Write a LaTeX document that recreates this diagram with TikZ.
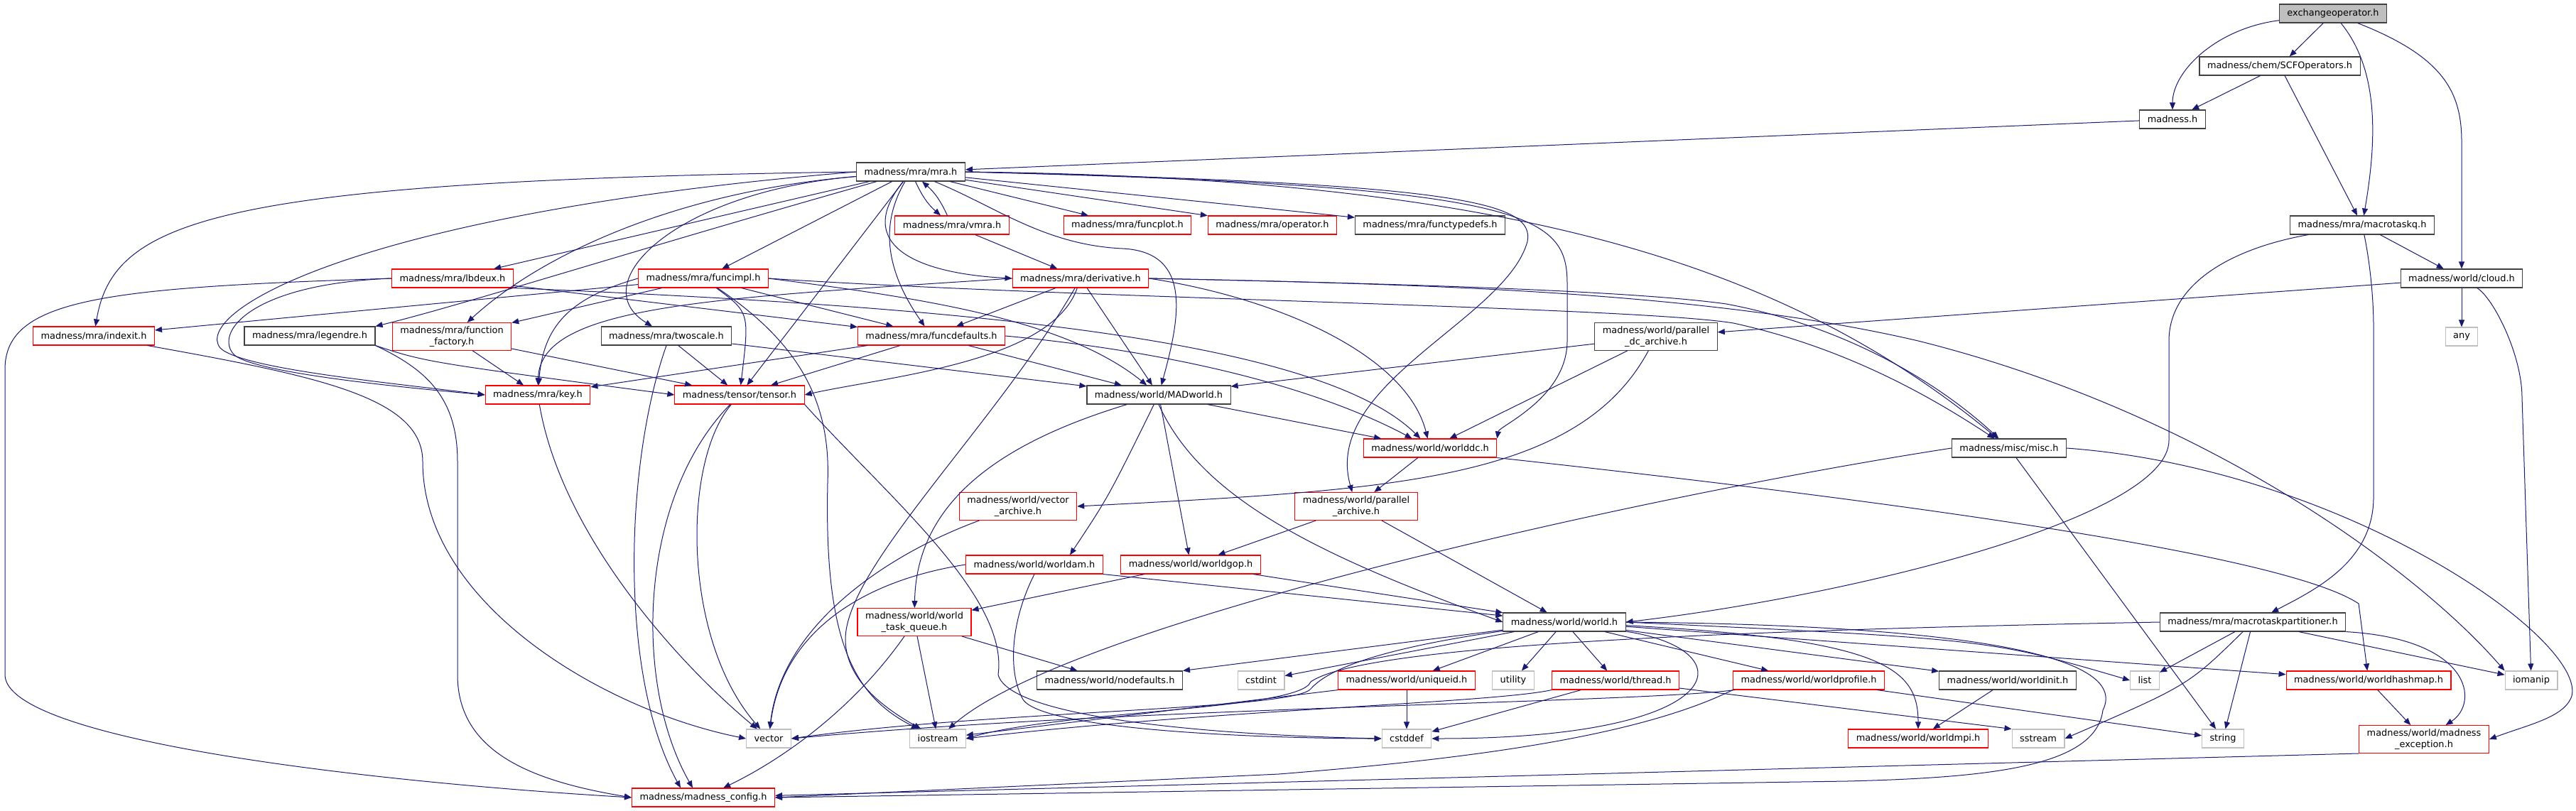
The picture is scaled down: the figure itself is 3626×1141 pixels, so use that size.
\documentclass[tikz,border=0pt]{standalone}
\usepackage{fontspec}
\setmainfont{DejaVu Sans}
\usetikzlibrary{arrows.meta}
\definecolor{edgeblue}{HTML}{191970}
\definecolor{grey75}{HTML}{BFBFBF}
\definecolor{hdrred}{HTML}{FF0000}
\definecolor{hdrblack}{HTML}{404040}

\begin{document}
\begin{tikzpicture}[
    x=1pt, y=-1pt,
    hdr/.style={draw=hdrblack, line width=1.1pt, inner xsep=11pt, inner ysep=5pt,
        minimum height=26pt, align=center, font=\fontsize{12.9}{16}\selectfont},
    redhdr/.style={hdr, draw=hdrred},
    syshdr/.style={hdr, draw=grey75},
    roothdr/.style={hdr, fill=grey75},
    incl/.style={->, draw=edgeblue, line width=1pt},
    >={Triangle[length=10pt,width=8pt]}
]
\useasboundingbox (0,0) rectangle (3626,1141);

% Top
\node[roothdr] (exchop)   at (3284,19)  {exchangeoperator.h};
\node[hdr]     (scfop)    at (3209,93)  {madness/chem/SCFOperators.h};
\node[hdr]     (madness)  at (3058,168) {madness.h};
\node[hdr]     (mra)      at (1282,242) {madness/mra/mra.h};

% mra level
\node[redhdr] (vmra)         at (1340,317) {madness/mra/vmra.h};
\node[redhdr] (funcplot)     at (1587,317) {madness/mra/funcplot.h};
\node[redhdr] (operator)     at (1791,317) {madness/mra/operator.h};
\node[hdr]    (functypedefs) at (2013,317) {madness/mra/functypedefs.h};
\node[hdr]    (macrotaskq)   at (3325,317) {madness/mra/macrotaskq.h};

\node[redhdr] (lbdeux)     at (637,392)  {madness/mra/lbdeux.h};
\node[redhdr] (funcimpl)   at (990,392)  {madness/mra/funcimpl.h};
\node[redhdr] (derivative) at (1521,392) {madness/mra/derivative.h};
\node[hdr]    (cloud)      at (3465,392) {madness/world/cloud.h};

\node[redhdr] (indexit)      at (132,473)  {madness/mra/indexit.h};
\node[hdr]    (legendre)     at (436,473)  {madness/mra/legendre.h};
\node[redhdr] (ffactory)     at (636,474)  {madness/mra/function\\\_factory.h};
\node[hdr]    (twoscale)     at (938,473)  {madness/mra/twoscale.h};
\node[redhdr] (funcdefaults) at (1311,473) {madness/mra/funcdefaults.h};
\node[hdr]    (pdcarchive)   at (2331,474) {madness/world/parallel\\\_dc\_archive.h};
\node[syshdr] (any)          at (3465,474) {any};

\node[redhdr] (key)      at (757,556)  {madness/mra/key.h};
\node[redhdr] (tensor)   at (1041,556) {madness/tensor/tensor.h};
\node[hdr]    (madworld) at (1631,556) {madness/world/MADworld.h};

% World level
\node[redhdr] (worlddc)    at (2013,631) {madness/world/worlddc.h};
\node[hdr]    (misc)       at (2828,631) {madness/misc/misc.h};
\node[redhdr] (vecarchive) at (1433,713) {madness/world/vector\\\_archive.h};
\node[redhdr] (pararchive) at (1909,713) {madness/world/parallel\\\_archive.h};
\node[redhdr] (worldam)    at (1456,795) {madness/world/worldam.h};
\node[redhdr] (worldgop)   at (1676,795) {madness/world/worldgop.h};
\node[redhdr] (taskqueue)  at (1287,876) {madness/world/world\\\_task\_queue.h};
\node[hdr]    (world)      at (2202,876) {madness/world/world.h};
\node[hdr]    (partitioner) at (3171,876) {madness/mra/macrotaskpartitioner.h};

\node[hdr]    (nodefaults)   at (1562,958) {madness/world/nodefaults.h};
\node[syshdr] (cstdint)      at (1775,958) {cstdint};
\node[redhdr] (uniqueid)     at (1980,958) {madness/world/uniqueid.h};
\node[syshdr] (utility)      at (2130,958) {utility};
\node[redhdr] (thread)       at (2274,958) {madness/world/thread.h};
\node[redhdr] (worldprofile) at (2546,958) {madness/world/worldprofile.h};
\node[hdr]    (worldinit)    at (2826,958) {madness/world/worldinit.h};
\node[syshdr] (list)         at (3019,958) {list};
\node[redhdr] (worldhashmap) at (3334,958) {madness/world/worldhashmap.h};
\node[syshdr] (iomanip)      at (3563,958) {iomanip};

% Bottom
\node[syshdr] (vector)       at (1082,1040) {vector};
\node[syshdr] (iostream)     at (1320,1040) {iostream};
\node[syshdr] (cstddef)      at (1980,1040) {cstddef};
\node[redhdr] (worldmpi)     at (2700,1040) {madness/world/worldmpi.h};
\node[syshdr] (sstream)      at (2869,1040) {sstream};
\node[syshdr] (string)       at (3129,1040) {string};
\node[redhdr] (madexception) at (3412,1041) {madness/world/madness\\\_exception.h};
\node[redhdr] (madconfig)    at (990,1123)  {madness/madness\_config.h};

% exchangeoperator.h, SCFOperators.h, madness.h
\draw[incl] (exchop) .. controls (3120,40) and (3058,100) .. (madness);
\draw[incl] (exchop) -- (scfop);
\draw[incl] (exchop) .. controls (3350,100) and (3345,200) .. (macrotaskq);
\draw[incl] (exchop) .. controls (3440,80) and (3465,130) .. (3465,200) -- (cloud);
\draw[incl] (scfop) -- (madness);
\draw[incl] (scfop) -- (macrotaskq);
\draw[incl] (madness) -- (mra);

% macrotaskq.h, cloud.h
\draw[incl] (macrotaskq) -- (cloud);
\draw[incl] (macrotaskq) .. controls (3140,350) and (3053,400) .. (3053,480) -- (3053,620)
    .. controls (3053,730) and (2600,840) .. (world.east);
\draw[incl] (macrotaskq) .. controls (3336,370) and (3341,420) .. (3341,460) -- (3341,700)
    .. controls (3341,790) and (3260,830) .. (partitioner);
\draw[incl] (cloud) -- (pdcarchive);
\draw[incl] (cloud) -- (any);
\draw[incl] (cloud) .. controls (3510,420) and (3550,500) .. (3550,560) -- (iomanip);

% mra.h
\draw[incl] (mra) to[bend right=12] (vmra);
\draw[incl] (vmra) to[bend right=12] (mra);
\draw[incl] (mra) -- (funcplot);
\draw[incl] (mra) -- (operator);
\draw[incl] (mra) -- (functypedefs);
\draw[incl] (mra) .. controls (1200,345) and (1290,385) .. (derivative.west);
\draw[incl] (mra) -- (funcimpl);
\draw[incl] (mra) .. controls (1230,330) and (1260,400) .. (funcdefaults);
\draw[incl] (mra) -- (tensor);
\draw[incl] (mra) .. controls (1400,290) and (1470,345) .. (1580,350)
    .. controls (1680,355) and (1660,450) .. (madworld);
\draw[incl] (mra) -- (lbdeux);
\draw[incl] (mra.west) .. controls (300,255) and (160,310) .. (indexit);
\draw[incl] (mra) .. controls (900,350) and (650,430) .. (legendre.north east);
\draw[incl] (mra) .. controls (950,270) and (760,360) .. (ffactory);
\draw[incl] (mra.west) .. controls (500,300) and (270,440) .. (310,490)
    .. controls (340,520) and (560,540) .. (key.west);
\draw[incl] (mra) .. controls (950,270) and (820,400) .. ([xshift=-20pt]twoscale.north);
\draw[incl] (mra.east) .. controls (2150,262) and (2206,300) .. (2206,400) -- (2206,480)
    .. controls (2206,560) and (2110,600) .. (worlddc.north east);
\draw[incl] (mra.east) .. controls (2060,258) and (2160,285) .. (2150,340)
    .. controls (2120,450) and (1860,540) .. (pararchive);
\draw[incl] (mra.east) .. controls (2100,250) and (2500,360) .. (misc);
\draw[incl] (vmra) -- (derivative);

% derivative.h
\draw[incl] (derivative) -- (funcdefaults);
\draw[incl] (derivative) .. controls (1480,510) and (1250,530) .. (tensor.east);
\draw[incl] (derivative) -- (madworld);
\draw[incl] (derivative.west) .. controls (1000,420) and (760,430) .. (key);
\draw[incl] (derivative.east) .. controls (1800,420) and (1980,500) .. (worlddc);
\draw[incl] (derivative.east) .. controls (2000,400) and (2300,410) .. (2430,428)
    .. controls (2600,460) and (2730,540) .. (misc);
\draw[incl] (derivative.east) .. controls (2000,400) and (2400,410) .. (2700,480)
    .. controls (3100,580) and (3400,800) .. (iomanip.north west);
\draw[incl] (derivative) .. controls (1400,600) and (1190,800) .. (1190,900)
    .. controls (1190,960) and (1250,1000) .. (iostream);

% funcimpl.h
\draw[incl] (funcimpl) -- (indexit);
\draw[incl] (funcimpl) -- (ffactory);
\draw[incl] (funcimpl.west) .. controls (800,420) and (765,460) .. (key);
\draw[incl] (funcimpl) -- (funcdefaults);
\draw[incl] (funcimpl) .. controls (1055,440) .. (tensor);
\draw[incl] (funcimpl.east) .. controls (1300,420) and (1500,450) .. (madworld);
\draw[incl] (funcimpl) .. controls (1120,480) and (1170,560) .. (1165,680)
    .. controls (1160,900) and (1200,980) .. (iostream);
\draw[incl] (funcimpl.east) .. controls (1500,420) and (2300,432) .. (2440,455)
    .. controls (2600,490) and (2720,560) .. (misc);

% lbdeux.h, legendre.h, indexit.h, key.h
\draw[incl] (lbdeux.west) .. controls (350,400) and (300,470) .. (330,500)
    .. controls (360,525) and (560,545) .. (key.west);
\draw[incl] (lbdeux) -- (funcdefaults);
\draw[incl] (lbdeux.south east) .. controls (1300,430) and (1850,470) .. (worlddc);
\draw[incl] (lbdeux.west) .. controls (150,405) and (7,420) .. (7,520) -- (7,950)
    .. controls (7,1040) and (500,1100) .. (madconfig.west);
\draw[incl] (legendre.south east) .. controls (600,510) .. (tensor.west);
\draw[incl] (legendre.south east) .. controls (600,520) and (644,560) .. (644,650) -- (644,950)
    .. controls (644,1060) and (750,1100) .. (madconfig.west);
\draw[incl] (indexit) .. controls (450,530) and (595,560) .. (595,650)
    .. controls (595,850) and (850,1000) .. (vector.west);
\draw[incl] (key) .. controls (790,750) and (950,930) .. (vector);

% function_factory.h, twoscale.h, funcdefaults.h, tensor.h
\draw[incl] (ffactory) -- (key);
\draw[incl] (ffactory) -- (tensor);
\draw[incl] (twoscale) -- (tensor);
\draw[incl] (twoscale) -- (madworld);
\draw[incl] (twoscale.south) .. controls (880,650) and (870,950) .. ([xshift=-32pt]madconfig.north);
\draw[incl] (funcdefaults) -- (key);
\draw[incl] (funcdefaults) -- (tensor);
\draw[incl] (funcdefaults) -- (madworld);
\draw[incl] (funcdefaults.east) .. controls (1700,500) and (1880,560) .. (worlddc);
\draw[incl] (tensor) .. controls (960,650) and (960,900) .. (vector);
\draw[incl] (tensor) .. controls (900,700) and (890,960) .. ([xshift=-15pt]madconfig.north);
\draw[incl] (tensor.south east) .. controls (1250,700) and (1420,840) .. (1405,950)
    .. controls (1420,1010) and (1700,1035) .. (cstddef.west);

% MADworld.h, worlddc.h, archives
\draw[incl] (madworld) .. controls (1420,620) and (1290,700) .. (taskqueue);
\draw[incl] (madworld) .. controls (1560,700) .. ([xshift=50pt]worldam.north);
\draw[incl] (madworld) -- (worldgop);
\draw[incl] (madworld.south) .. controls (1690,700) and (1850,780) .. (world.west);
\draw[incl] (madworld) -- (worlddc);
\draw[incl] (worlddc) -- (pararchive);
\draw[incl] (worlddc.south east) .. controls (2800,720) and (3230,790) .. (3320,850) -- (worldhashmap);
\draw[incl] (pararchive) -- (world);
\draw[incl] (pararchive) -- (worldgop);
\draw[incl] (pdcarchive) -- (madworld);
\draw[incl] (pdcarchive) -- (worlddc);
\draw[incl] (pdcarchive) .. controls (2220,680) and (1950,690) .. (vecarchive.east);
\draw[incl] (vecarchive) .. controls (1250,780) and (1100,880) .. (vector);

% misc.h
\draw[incl] (misc.west) .. controls (2300,700) and (1500,880) .. (iostream);
\draw[incl] (misc) -- (string);
\draw[incl] (misc.east) .. controls (3300,660) and (3640,900) .. (3620,980)
    .. controls (3610,1010) and (3560,1020) .. (madexception.east);

% worldam.h, worldgop.h, world_task_queue.h
\draw[incl] (worldam.west) .. controls (1200,820) and (1100,900) .. (vector);
\draw[incl] (worldam.south) .. controls (1420,880) and (1420,950) .. (1440,985)
    .. controls (1470,1030) and (1800,1040) .. (cstddef.west);
\draw[incl] (worldam.south east) -- (world);
\draw[incl] (worldgop) -- (taskqueue);
\draw[incl] (worldgop) -- (world);
\draw[incl] (taskqueue) -- (nodefaults);
\draw[incl] (taskqueue) -- (iostream);
\draw[incl] (taskqueue) .. controls (1200,1000) and (1100,1070) .. (madconfig);

% world.h
\draw[incl] (world) -- (nodefaults.north east);
\draw[incl] (world) -- (cstdint);
\draw[incl] (world) -- (uniqueid);
\draw[incl] (world) -- (utility);
\draw[incl] (world) -- (thread);
\draw[incl] (world) -- (worldprofile);
\draw[incl] (world) .. controls (2460,915) and (2440,1040) .. (cstddef.east);
\draw[incl] (world) .. controls (2650,900) and (2700,940) .. (worldmpi);
\draw[incl] (world) -- (worldinit);
\draw[incl] (world.east) .. controls (2800,900) .. (list.west);
\draw[incl] (world) -- (worldhashmap);
\draw[incl] (world.east) .. controls (2750,880) and (3000,920) .. (2960,1000)
    .. controls (2950,1080) and (2800,1095) .. (2600,1100) -- (madconfig.east);
\draw[incl] (world) .. controls (2000,905) and (1880,930) .. (1845,970)
    .. controls (1820,1000) and (1400,1000) .. (vector.east);

% macrotaskpartitioner.h
\draw[incl] (partitioner) -- (list);
\draw[incl] (partitioner) .. controls (3080,965) .. (sstream.east);
\draw[incl] (partitioner) -- (string);
\draw[incl] (partitioner) -- (iomanip);
\draw[incl] (partitioner.south east) .. controls (3480,900) and (3490,990) .. (madexception);
\draw[incl] (partitioner.west) .. controls (2300,890) and (1910,915) .. (1845,960)
    .. controls (1830,1000) and (1500,1000) .. (iostream.east);

% Lower world headers
\draw[incl] (uniqueid) -- (cstddef);
\draw[incl] (uniqueid.south west) -- (iostream);
\draw[incl] (thread) -- (cstddef);
\draw[incl] (thread) -- (sstream.north west);
\draw[incl] (thread.south west) .. controls (2100,990) and (1700,1000) .. (iostream.east);
\draw[incl] (worldprofile) -- (string);
\draw[incl] (worldprofile) .. controls (2300,990) and (1600,995) .. (vector.east);
\draw[incl] (worldprofile.south west) .. controls (2300,1040) and (2050,1070) .. (1800,1090)
    -- (madconfig.east);
\draw[incl] (worldinit) -- (worldmpi);
\draw[incl] (worldhashmap) -- (madexception);
\draw[incl] (madexception.south west) -- (madconfig);
\end{tikzpicture}
\end{document}
